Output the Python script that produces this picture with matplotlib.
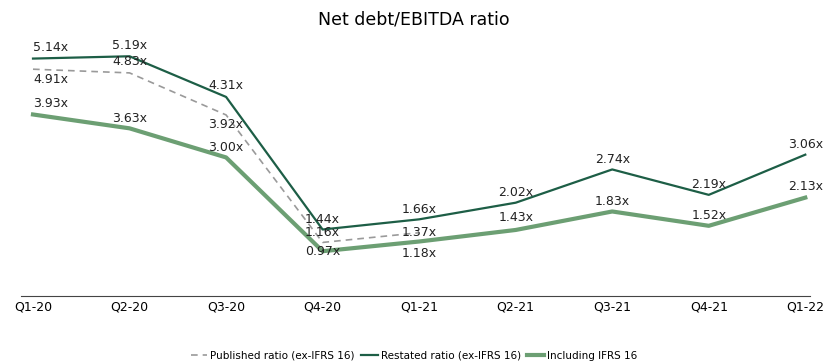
import matplotlib.pyplot as plt

quarters = ["Q1-20", "Q2-20", "Q3-20", "Q4-20", "Q1-21", "Q2-21", "Q3-21", "Q4-21", "Q1-22"]
published = [4.91, 4.83, 3.92, 1.16, 1.37]
restated = [5.14, 5.19, 4.31, 1.44, 1.66, 2.02, 2.74, 2.19, 3.06]
ifrs16 = [3.93, 3.63, 3.00, 0.97, 1.18, 1.43, 1.83, 1.52, 2.13]

# label offsets in pixels (above / below the point)
published_off = [-10, 11, -10, 10, 0]
restated_off = [11, 11, 11, 10, 10, 10, 10, 10, 10]
ifrs16_off = [11, 10, 10, 0, -12, 12, 10, 10, 11]

fig = plt.figure(figsize=(8.28, 3.61), dpi=100)
ax = fig.add_axes([0.0254, 0.18, 0.953, 0.723])

x = list(range(len(quarters)))
ax.plot(x[:len(published)], published, color="#9a9a9a", lw=1.2, ls=(0, (4, 3)),
        label="Published ratio (ex-IFRS 16)")
ax.plot(x, restated, color="#1d5e46", lw=1.6, label="Restated ratio (ex-IFRS 16)")
ax.plot(x, ifrs16, color="#6c9f73", lw=3.0, label="Including IFRS 16")


def add_labels(vals, offs):
    for i, (v, o) in enumerate(zip(vals, offs)):
        ax.annotate(f"{v:.2f}x", (i, v), xytext=(0, o), textcoords="offset pixels",
                    ha="left" if i == 0 else "center", va="center", fontsize=9, color="#222222")


add_labels(published, published_off)
add_labels(restated, restated_off)
add_labels(ifrs16, ifrs16_off)

ax.set_xlim(-0.124, 8.05)
ax.set_ylim(0, 5.65)
ax.set_xticks(x)
ax.set_xticklabels(quarters, fontsize=9)
ax.tick_params(axis="x", length=0, pad=3)
ax.set_yticks([])
for s in ["top", "right", "left"]:
    ax.spines[s].set_visible(False)
ax.spines["bottom"].set_color("#444444")

fig.suptitle("Net debt/EBITDA ratio", y=0.97, fontsize=12.5)
fig.legend(loc="lower center", bbox_to_anchor=(0.5, -0.025), ncol=3, frameon=False,
           fontsize=7.5, handlelength=1.6, handletextpad=0.3, columnspacing=0.6)

fig.savefig("out.png", dpi=100)
